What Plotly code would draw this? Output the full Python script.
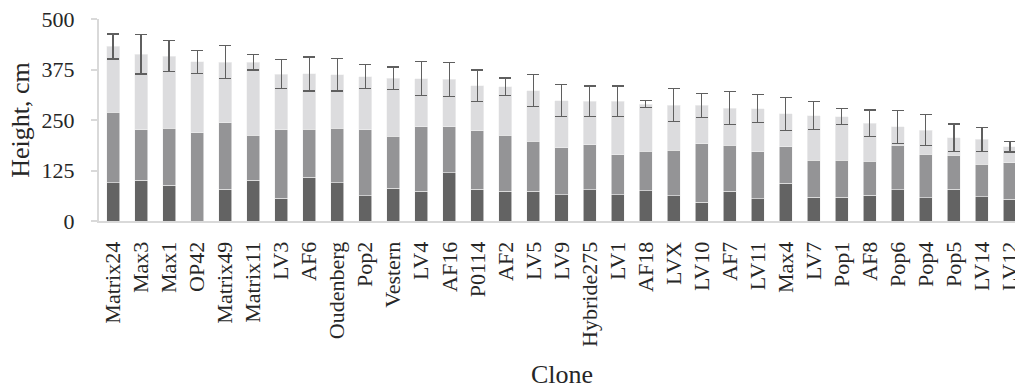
import plotly.graph_objects as go

# Clones, ordered by total height
clones = ["Matrix24", "Max3", "Max1", "OP42", "Matrix49", "Matrix11", "LV3", "AF6",
          "Oudenberg", "Pop2", "Vestern", "LV4", "AF16", "P0114", "AF2", "LV5",
          "LV9", "Hybride275", "LV1", "AF18", "LVX", "LV10", "AF7", "LV11",
          "Max4", "LV7", "Pop1", "AF8", "Pop6", "Pop4", "Pop5", "LV14", "LV12"]

# Height increments per period (cm), stacked bottom to top
seg1 = [95, 101, 89, 0, 79, 101, 56, 108, 95, 63, 81, 74, 120, 79, 74, 74,
        65, 77, 65, 75, 62, 47, 74, 55, 94, 59, 59, 64, 77, 57, 79, 60, 54]
seg2 = [174, 125, 141, 219, 164, 111, 170, 119, 135, 163, 129, 159, 113, 145, 138, 123,
        116, 112, 99, 98, 113, 144, 113, 117, 90, 92, 91, 84, 111, 108, 84, 81, 90]
seg3 = [163, 187, 178, 175, 150, 181, 137, 137, 132, 131, 143, 119, 118, 111, 120, 126,
        117, 107, 132, 116, 112, 95, 92, 106, 81, 110, 108, 94, 45, 60, 43, 61, 40]
# Standard deviation of total height (cm)
total_sd = [31, 49, 38, 29, 41, 19, 36, 42, 40, 30, 28, 42, 42, 39, 22, 39,
            40, 38, 38, 9, 40, 29, 41, 35, 41, 35, 20, 33, 41, 39, 34, 30, 13]

y_ticks = [0, 125, 250, 375, 500]

FONT = "Liberation Serif, Times New Roman, serif"
TEXT = "#262626"
AXIS = "#d9d9d9"

fig = go.Figure()
seg_colors = ["#636363", "#949496", "#dcdcde"]
for vals, col in zip([seg1, seg2, seg3], seg_colors):
    fig.add_trace(go.Bar(
        x=clones, y=vals,
        marker=dict(color=col, line=dict(color="#f2f2f2", width=0.6)),
        showlegend=False,
    ))

# Error bars sit on the top of the stack
fig.data[-1].error_y = dict(type="data", array=total_sd, symmetric=True,
                            color="#5f5f5f", thickness=1.2, width=6)

W, H = 1015, 389
L, R, T, B = 99, 0, 19, 168
fig.update_layout(
    width=W, height=H,
    margin=dict(l=L, r=R, t=T, b=B, pad=0, autoexpand=False),
    barmode="stack",
    bargap=0.535,
    plot_bgcolor="white", paper_bgcolor="white",
    font=dict(family=FONT, size=22, color=TEXT),
)
fig.update_xaxes(
    type="category",
    range=[-0.5, 32.18],
    automargin=False,
    tickangle=-90,
    showline=True, linecolor=AXIS, linewidth=2,
    ticks="", showgrid=False,
    ticklabelstandoff=10,
    tickfont=dict(family=FONT, size=22, color=TEXT),
)
fig.update_yaxes(
    range=[0, 500],
    automargin=False,
    tickvals=y_ticks,
    showline=True, linecolor=AXIS, linewidth=2,
    ticks="outside", ticklen=6, tickcolor=AXIS, tickwidth=2,
    showgrid=False, zeroline=False,
    ticklabelstandoff=12,
    tickfont=dict(family=FONT, size=22, color=TEXT),
    title=dict(text="Height, cm", font=dict(family=FONT, size=26, color=TEXT), standoff=4),
)

plot_w = W - L - R
plot_h = H - T - B
fig.add_annotation(
    text="Clone", showarrow=False,
    xref="paper", yref="paper",
    x=(562 - L) / plot_w, y=(H - B - 374) / plot_h,
    xanchor="center", yanchor="middle",
    font=dict(family=FONT, size=26, color=TEXT),
)

fig.write_html("out.html")
